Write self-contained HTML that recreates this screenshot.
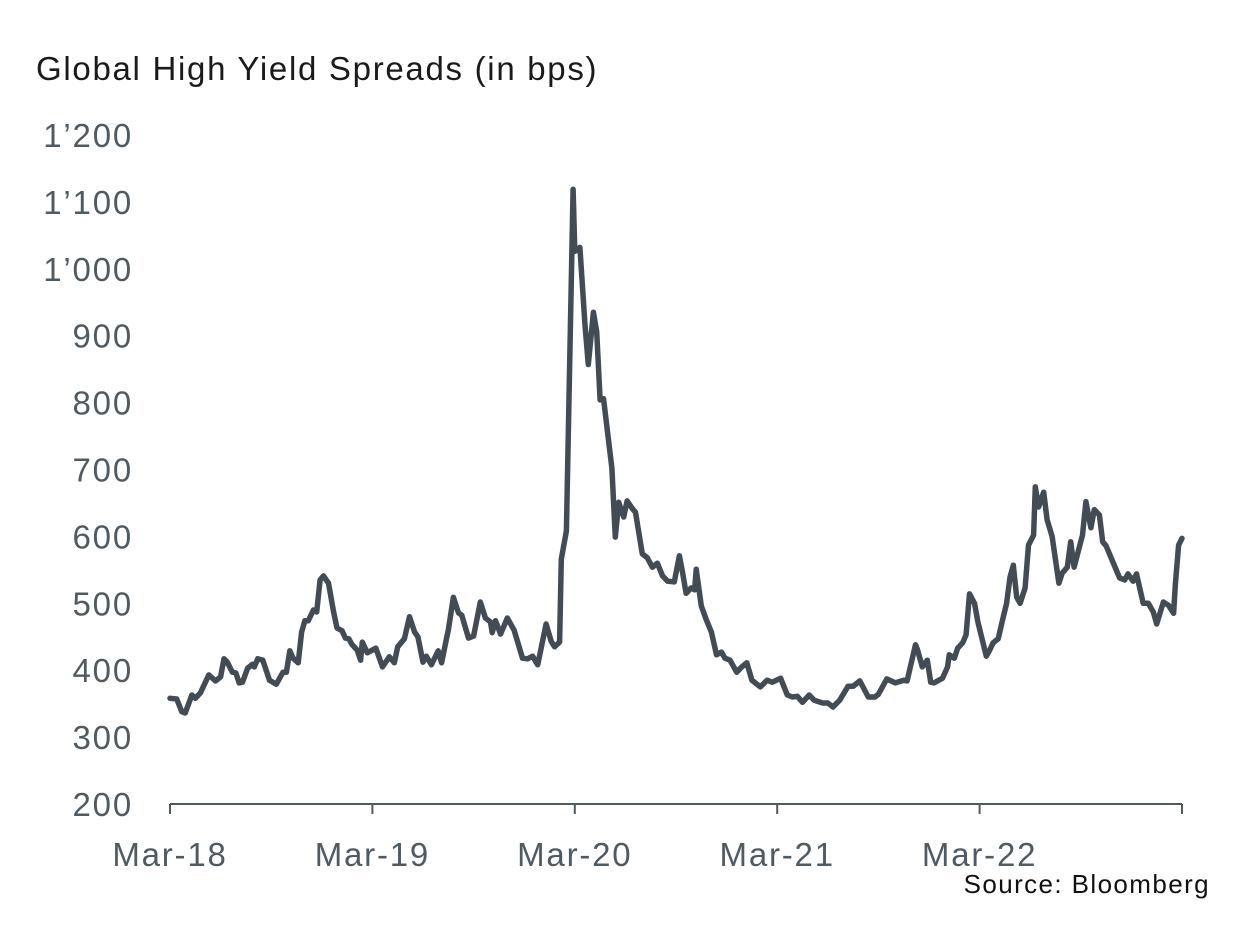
<!DOCTYPE html>
<html><head><meta charset="utf-8"><style>
html,body{margin:0;padding:0;background:#fff;}
svg{display:block;font-family:"Liberation Sans",sans-serif;}
</style></head><body>
<svg id="chart" width="1249" height="949" viewBox="0 0 1249 949">
<text x="36" y="80" font-size="33" letter-spacing="1.7" fill="#1a1a1a">Global High Yield Spreads (in bps)</text>
<g id="yaxis"></g>
<g id="xaxis"></g>
<path id="line" fill="none" stroke="#434c54" stroke-width="5.5" stroke-linejoin="round" stroke-linecap="round"/>
<text x="1210" y="893" font-size="26" letter-spacing="1.4" fill="#111" text-anchor="end">Source: Bloomberg</text>
</svg>
<script>
const yTicks=[200,300,400,500,600,700,800,900,1000,1100,1200];
const yTickLabels=["200","300","400","500","600","700","800","900","1’000","1’100","1’200"];
const xTickMonths=[0,12,24,36,48,60];
const xTickLabels=["Mar-18","Mar-19","Mar-20","Mar-21","Mar-22",""];
const months=[0,0.4,0.7,0.9,1.3,1.5,1.8,2.3,2.7,3.0,3.2,3.4,3.7,3.9,4.1,4.3,4.6,4.9,5.0,5.2,5.5,5.9,6.3,6.7,6.9,7.1,7.3,7.6,7.8,8.0,8.2,8.5,8.7,8.9,9.1,9.4,9.7,9.9,10.2,10.4,10.6,10.8,11.1,11.3,11.4,11.7,12.2,12.6,13.0,13.3,13.5,13.9,14.2,14.5,14.7,15.0,15.2,15.5,15.9,16.1,16.4,16.5,16.8,17.1,17.3,17.7,18.0,18.4,18.7,19.0,19.1,19.3,19.6,20.0,20.4,20.9,21.2,21.5,21.8,22.3,22.6,22.8,23.1,23.2,23.5,23.9,24.0,24.3,24.6,24.8,25.1,25.3,25.5,25.7,26.0,26.2,26.4,26.6,26.9,27.1,27.4,27.6,28.0,28.3,28.6,28.9,29.2,29.5,29.9,30.2,30.4,30.6,30.9,31.1,31.2,31.5,31.8,32.1,32.4,32.7,32.9,33.2,33.6,33.9,34.2,34.5,35.0,35.4,35.7,36.2,36.6,36.9,37.2,37.5,37.9,38.2,38.7,39.0,39.3,39.7,40.2,40.5,40.9,41.4,41.8,42.0,42.5,43.0,43.5,43.7,44.2,44.3,44.6,44.9,45.1,45.3,45.8,46.1,46.2,46.5,46.7,47.0,47.2,47.4,47.7,47.9,48.4,48.6,48.8,49.1,49.4,49.6,49.8,50.0,50.2,50.4,50.7,50.9,51.2,51.3,51.5,51.8,52.0,52.3,52.7,52.9,53.2,53.4,53.6,54.1,54.3,54.6,54.8,55.1,55.3,55.5,55.9,56.3,56.6,56.8,57.1,57.3,57.7,58.0,58.3,58.5,58.9,59.2,59.5,59.6,59.8,60.0];
const spreads=[358,357,338,336,363,358,366,393,384,390,417,412,397,396,381,382,403,409,405,417,415,385,379,397,397,429,418,411,457,474,474,490,487,535,541,530,487,463,459,448,447,438,430,415,442,426,433,405,420,411,435,447,480,457,450,412,421,408,429,411,448,460,509,486,482,448,451,502,478,472,456,474,454,478,460,418,417,421,408,469,443,435,442,566,608,1119,1026,1032,918,857,935,906,804,806,744,702,599,651,629,653,642,636,574,568,554,560,541,533,532,571,545,515,523,520,551,496,475,457,423,427,418,415,397,405,411,385,375,385,382,388,363,360,361,352,363,355,351,351,345,355,376,376,384,360,360,364,387,381,385,384,438,432,405,415,382,381,388,405,423,418,433,441,453,514,500,472,421,430,441,447,479,500,539,557,509,500,523,587,602,674,644,666,625,600,530,545,554,592,554,602,652,613,640,632,592,586,562,538,535,544,533,544,500,500,487,469,502,497,485,527,587,597];

const X0=170,X1=1182,Y0=804,Y1=135;
function xs(m){return X0+(m/60)*(X1-X0);}
function ys(v){return Y0-(v-200)/1000*(Y0-Y1);}
const NS="http://www.w3.org/2000/svg";
const ya=document.getElementById('yaxis');
yTicks.forEach((v,i)=>{
  const t=document.createElementNS(NS,'text');
  t.setAttribute('x',133);t.setAttribute('y',ys(v)+12);
  t.setAttribute('text-anchor','end');t.setAttribute('font-size','33');t.setAttribute('letter-spacing','1.8');t.setAttribute('fill','#4f5a62');
  t.textContent=yTickLabels[i];
  
  
  ya.appendChild(t);
});
const xa=document.getElementById('xaxis');
const base=document.createElementNS(NS,'line');
base.setAttribute('x1',X0);base.setAttribute('x2',X1);base.setAttribute('y1',Y0);base.setAttribute('y2',Y0);
base.setAttribute('stroke','#4f5a62');base.setAttribute('stroke-width','2');


xa.appendChild(base);
xTickMonths.forEach((m,i)=>{
  const l=document.createElementNS(NS,'line');
  l.setAttribute('x1',xs(m));l.setAttribute('x2',xs(m));l.setAttribute('y1',Y0);l.setAttribute('y2',Y0+10);
  l.setAttribute('stroke','#4f5a62');l.setAttribute('stroke-width','2');
  
  
  xa.appendChild(l);
  if(xTickLabels[i]){
    const t=document.createElementNS(NS,'text');
    t.setAttribute('x',xs(m));t.setAttribute('y',866);
    t.setAttribute('text-anchor','middle');t.setAttribute('font-size','33');t.setAttribute('letter-spacing','1.8');t.setAttribute('fill','#4f5a62');
    t.textContent=xTickLabels[i];
    
    
    xa.appendChild(t);
  }
});
let d='';
months.forEach((m,i)=>{d+=(i?'L':'M')+xs(m).toFixed(1)+','+ys(spreads[i]).toFixed(1);});
document.getElementById('line').setAttribute('d',d);
</script>
</body></html>
